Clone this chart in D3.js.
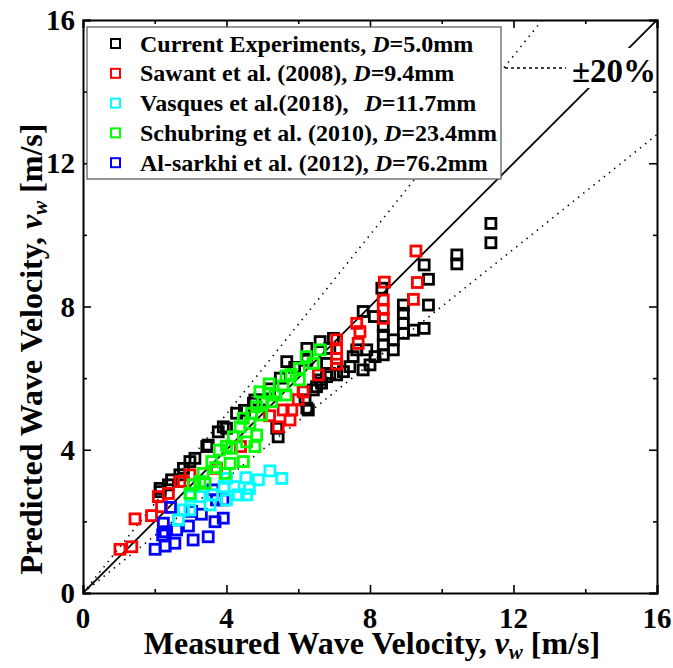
<!DOCTYPE html>
<html>
<head>
<meta charset="utf-8">
<script src="https://cdn.jsdelivr.net/npm/d3@7"></script>
<style>
  body { margin: 0; background: #fff; overflow: hidden; }
  svg { display: block; }
  text { font-family: "Liberation Serif", "Times New Roman", serif; font-weight: bold; }
</style>
</head>
<body>
<svg id="chart"></svg>
<script>
// set up constants
const width = 673;
const height = 668;
const margin = { top: 20, right: 16, bottom: 75, left: 83 };
const innerWidth = width - margin.left - margin.right;
const innerHeight = height - margin.top - margin.bottom;

// data: [measured, predicted]
const currentExp = [
  [11.37, 10.32], [11.37, 9.78], [10.42, 9.44], [10.42, 9.19], [9.51, 9.16], [9.63, 8.76],
  [9.63, 8.04], [9.51, 7.39], [9.21, 7.34], [8.93, 8.04], [8.93, 7.81], [8.93, 7.53],
  [8.93, 7.25], [8.65, 7.07], [8.65, 6.79], [8.33, 8.51], [8.37, 7.44], [8.37, 7.2],
  [8.37, 6.93], [8.37, 6.65], [7.81, 7.86], [8.12, 7.72], [7.91, 6.79], [8.14, 6.6],
  [8.0, 6.37], [7.81, 6.23], [7.63, 6.79], [7.53, 6.6], [7.44, 6.32], [7.26, 6.18],
  [7.07, 6.09], [6.98, 7.11], [6.88, 6.83], [6.79, 6.04], [6.61, 7.02], [6.61, 5.95],
  [6.51, 5.76], [6.24, 6.83], [6.24, 6.5], [6.14, 5.62], [5.68, 6.46], [6.28, 5.11],
  [6.19, 5.39], [6.79, 6.41], [6.88, 6.13], [6.65, 5.86], [6.42, 5.67], [6.24, 5.16],
  [5.44, 4.36], [5.40, 4.60], [4.79, 5.39], [4.28, 5.02], [3.91, 4.64], [3.49, 4.13],
  [3.12, 3.76], [2.80, 3.48], [2.47, 3.16], [2.15, 2.83], [2.15, 2.92], [2.38, 3.02],
  [2.70, 3.30], [2.98, 3.67], [3.45, 4.09], [3.77, 4.50], [4.0, 4.6], [4.75, 5.30],
  [5.0, 5.39], [5.5, 6.0], [5.2, 5.7], [4.5, 5.1], [5.9, 6.3]
];
const sawant = [
  [9.28, 9.55], [9.32, 8.67], [9.21, 8.20], [8.40, 8.68], [8.37, 8.18], [8.37, 7.92],
  [8.37, 7.67], [7.63, 7.53], [7.72, 7.30], [7.67, 6.97], [7.07, 7.07], [7.07, 6.83],
  [7.07, 6.55], [7.07, 6.39], [6.56, 6.09], [6.14, 5.62], [5.82, 5.11], [5.77, 4.83],
  [5.44, 4.64], [5.58, 5.11], [4.39, 4.09], [3.72, 3.48], [2.98, 3.30], [2.70, 3.11],
  [2.38, 2.78], [2.10, 2.69], [2.19, 2.41], [1.91, 2.16], [1.45, 2.07], [1.36, 1.29],
  [1.03, 1.22], [2.80, 3.11], [5.2, 4.95], [6.0, 5.4]
];
const vasques = [
  [5.21, 3.41], [5.54, 3.20], [4.89, 3.16], [4.54, 3.22], [4.64, 2.92], [4.56, 2.74],
  [4.21, 2.97], [3.93, 2.97], [4.00, 2.60], [3.61, 2.74], [3.26, 2.69], [3.54, 2.46],
  [2.98, 2.32], [2.80, 2.32], [2.66, 2.04], [4.33, 2.74], [4.0, 3.2], [3.0, 2.7]
];
const schubring = [
  [6.61, 6.79], [6.22, 6.60], [6.42, 6.41], [6.03, 6.27], [6.03, 5.95], [5.66, 6.06],
  [5.58, 5.78], [5.66, 5.53], [5.19, 5.84], [5.17, 5.58], [4.93, 5.62], [5.35, 5.53],
  [5.01, 5.32], [4.84, 5.20], [5.26, 5.34], [4.70, 5.02], [4.98, 4.97], [4.47, 4.88],
  [4.65, 4.74], [4.38, 4.64], [4.84, 4.41], [4.56, 4.22], [4.79, 4.09], [4.19, 4.36],
  [4.14, 4.04], [3.80, 3.99], [4.10, 3.62], [4.47, 3.67], [3.96, 3.34], [3.59, 3.67],
  [3.35, 3.34], [3.26, 3.11], [3.07, 3.02], [3.40, 3.06], [2.98, 2.78], [5.8, 6.1],
  [4.0, 4.1], [3.7, 3.5]
];
const alsarkhi = [
  [2.44, 2.39], [2.24, 1.95], [2.29, 1.71], [2.22, 1.62], [2.61, 1.76], [2.94, 1.87],
  [2.56, 1.39], [2.29, 1.31], [2.01, 1.22], [3.07, 1.48], [3.49, 1.57], [3.68, 1.99],
  [3.91, 2.09], [3.03, 2.28], [3.72, 2.60], [3.62, 2.88], [3.3, 2.2], [3.9, 2.6]
];

const seriesNames = [
  ['Current Experiments, ', 'D', '=5.0mm'],
  ['Sawant et al. (2008), ', 'D', '=9.4mm'],
  ['Vasques et al.(2018), ', 'D', '=11.7mm'],
  ['Schubring et al. (2010), ', 'D', '=23.4mm'],
  ['Al-sarkhi et al. (2012), ', 'D', '=76.2mm']
];
const seriesColors = ['#000000', '#ff0000', '#00ffff', '#00ff00', '#0000ff'];
const seriesData = [currentExp, sawant, vasques, schubring, alsarkhi];
const drawOrder = [0, 1, 4, 2, 3];

const majorTicks = [0, 4, 8, 12, 16];
const minorTicks = [2, 6, 10, 14];
const bandFactors = [1.25, 0.8];

// create SVG element
const svg = d3.select('#chart')
  .attr('width', width)
  .attr('height', height);

const g = svg.append('g')
  .attr('transform', `translate(${margin.left}, ${margin.top})`);

// create scales
const xScale = d3.scaleLinear().domain([0, 16]).range([0, innerWidth]);
const yScale = d3.scaleLinear().domain([0, 16]).range([innerHeight, 0]);

// clip to plot area
svg.append('defs').append('clipPath').attr('id', 'clip')
  .append('rect').attr('width', innerWidth).attr('height', innerHeight);

const plot = g.append('g').attr('clip-path', 'url(#clip)');

// reference lines
plot.append('line')
  .attr('x1', xScale(0)).attr('y1', yScale(0))
  .attr('x2', xScale(16)).attr('y2', yScale(16))
  .attr('stroke', '#000').attr('stroke-width', 1.8);

bandFactors.forEach(f => {
  const xEnd = Math.min(16, 16 / f);
  plot.append('line')
    .attr('x1', xScale(0)).attr('y1', yScale(0))
    .attr('x2', xScale(xEnd)).attr('y2', yScale(xEnd * f))
    .attr('stroke', '#000').attr('stroke-width', 1.6)
    .attr('stroke-dasharray', '1.4 5.2');
});

// markers
const side = 10;
drawOrder.forEach(i => {
  plot.append('g').selectAll('rect')
    .data(seriesData[i])
    .enter()
    .append('rect')
    .attr('x', d => xScale(d[0]) - side / 2)
    .attr('y', d => yScale(d[1]) - side / 2)
    .attr('width', side)
    .attr('height', side)
    .attr('fill', 'none')
    .attr('stroke', seriesColors[i])
    .attr('stroke-width', 2.8);
});

// axes with inward ticks on all sides
const axisDefs = [
  { gen: d3.axisBottom, y: innerHeight, x: 0 },
  { gen: d3.axisTop, y: 0, x: 0 },
  { gen: d3.axisLeft, y: 0, x: 0, isY: true },
  { gen: d3.axisRight, y: 0, x: innerWidth, isY: true }
];
axisDefs.forEach(a => {
  const sc = a.isY ? yScale : xScale;
  const ax = g.append('g').attr('transform', `translate(${a.x}, ${a.y})`);
  ax.call(a.gen(sc).tickValues(majorTicks).tickSize(-8).tickFormat(''));
  ax.append('g').call(a.gen(sc).tickValues(minorTicks).tickSize(-4).tickFormat(''))
    .select('.domain').remove();
  ax.selectAll('text').remove();
  ax.selectAll('line').attr('stroke', '#000').attr('stroke-width', 1.6);
  ax.selectAll('.domain').attr('stroke', '#000').attr('stroke-width', 2);
});

// tick labels
g.append('g').selectAll('text')
  .data(majorTicks)
  .enter()
  .append('text')
  .attr('x', d => xScale(d))
  .attr('y', innerHeight + 35)
  .attr('text-anchor', 'middle')
  .attr('font-size', 29)
  .text(d => d);

g.append('g').selectAll('text')
  .data(majorTicks)
  .enter()
  .append('text')
  .attr('x', -8)
  .attr('y', d => yScale(d) + 10)
  .attr('text-anchor', 'end')
  .attr('font-size', 29)
  .text(d => d);

// axis titles
function title(sel, prefix) {
  sel.append('tspan').text(prefix);
  sel.append('tspan').attr('font-style', 'italic').text('v');
  sel.append('tspan').attr('font-style', 'italic').attr('font-size', 21).attr('dy', 5).text('w');
  sel.append('tspan').attr('dy', -5).text(' [m/s]');
}

svg.append('text')
  .attr('x', 372)
  .attr('y', 654)
  .attr('text-anchor', 'middle')
  .attr('font-size', 32)
  .call(title, 'Measured Wave Velocity, ');

svg.append('text')
  .attr('transform', 'translate(42, 349) rotate(-90)')
  .attr('text-anchor', 'middle')
  .attr('font-size', 32)
  .call(title, 'Predicted Wave Velocity, ');

// ±20% label with leader
g.append('line')
  .attr('x1', 505 - margin.left).attr('y1', 68 - margin.top)
  .attr('x2', 566 - margin.left).attr('y2', 68 - margin.top)
  .attr('stroke', '#000').attr('stroke-width', 1.4)
  .attr('stroke-dasharray', '3 3');

g.append('rect')
  .attr('x', 570 - margin.left).attr('y', 48 - margin.top)
  .attr('width', 86).attr('height', 40)
  .attr('fill', '#fff');

g.append('text')
  .attr('x', 572 - margin.left)
  .attr('y', 82 - margin.top)
  .attr('font-size', 33)
  .text('\u00B120%');

// legend
const legend = g.append('g').attr('transform', `translate(${87 - margin.left}, ${27 - margin.top})`);
legend.append('rect')
  .attr('width', 414).attr('height', 152)
  .attr('fill', '#fff')
  .attr('stroke', '#555').attr('stroke-width', 1.2);

seriesNames.forEach((n, i) => {
  const row = legend.append('g').attr('transform', `translate(0, ${16.5 + i * 29.8})`);
  row.append('rect')
    .attr('x', 24).attr('y', -4.5)
    .attr('width', 9).attr('height', 9)
    .attr('fill', 'none')
    .attr('stroke', seriesColors[i])
    .attr('stroke-width', 2);
  const t = row.append('text')
    .attr('x', 53).attr('y', 8)
    .attr('font-size', 24);
  t.append('tspan').text(n[0]);
  t.append('tspan').attr('font-style', 'italic').attr('dx', i === 2 ? 10 : 0).text(n[1]);
  t.append('tspan').text(n[2]);
});
</script>
</body>
</html>
